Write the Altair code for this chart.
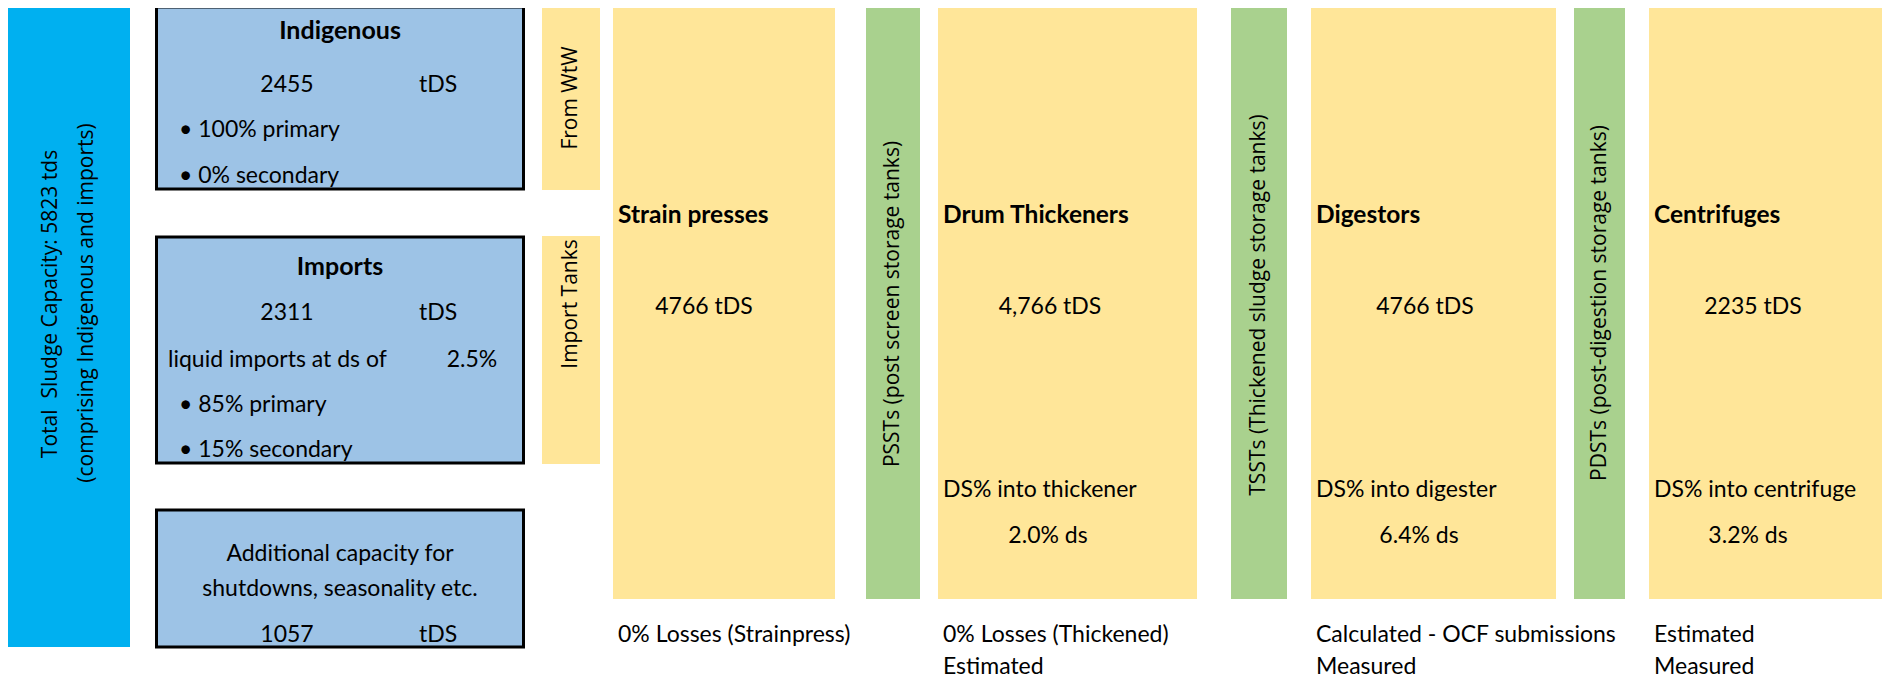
import altair as alt
import pandas as pd

# ---------------- content (values & labels) ----------------
total_capacity = 5823
indigenous_tds = 2455
imports_tds = 2311
additional_tds = 1057
import_ds = "2.5%"
indigenous_split = ["100% primary", "0% secondary"]
imports_split = ["85% primary", "15% secondary"]
feeds = ["From WtW", "Import Tanks"]
stages = ["Strain presses", "Drum Thickeners", "Digestors", "Centrifuges"]
stage_tds = ["4766", "4,766", "4766", "2235"]
stage_ds_label = ["", "DS% into thickener", "DS% into digester", "DS% into centrifuge"]
stage_ds = ["", "2.0%", "6.4%", "3.2%"]
stage_note1 = ["0% Losses (Strainpress)", "0% Losses (Thickened)", "Calculated - OCF submissions", "Estimated"]
stage_note2 = ["", "Estimated", "Measured", "Measured"]
tanks = ["PSSTs (post screen storage tanks)",
         "TSSTs (Thickened sludge storage tanks)",
         "PDSTs (post-digestion storage tanks)"]

# ---------------- layout (diagram geometry, page pixels) ----------------
W, H = 1874, 674
OX, OY = 8, 8
panel = (6, 130, 6, 647)
src_x = (156.5, 523.5)
src_y = [(7, 189), (237, 463), (510, 647)]
feed_x = (542, 600)
feed_y = [(6, 190), (236, 464)]
stage_x = [(613, 835), (938, 1197), (1311, 1556), (1649, 1890)]
stage_y = (6, 599)
tank_x = [(866, 920), (1231, 1287), (1574, 1625)]

BLUE_PANEL = "#00B0F0"
BOX_BLUE = "#9DC3E6"
YELLOW = "#FFE699"
GREEN = "#A9D18E"

rects = []
rects.append(dict(x0=panel[0], x1=panel[1], y0=panel[2], y1=panel[3], fill=BLUE_PANEL, stroke="none"))
for (a, b) in src_y:
    rects.append(dict(x0=src_x[0], x1=src_x[1], y0=a, y1=b, fill=BOX_BLUE, stroke="black"))
for (a, b) in feed_y:
    rects.append(dict(x0=feed_x[0], x1=feed_x[1], y0=a, y1=b, fill=YELLOW, stroke="none"))
for (a, b) in stage_x:
    rects.append(dict(x0=a, x1=b, y0=stage_y[0], y1=stage_y[1], fill=YELLOW, stroke="none"))
for (a, b) in tank_x:
    rects.append(dict(x0=a, x1=b, y0=stage_y[0], y1=stage_y[1], fill=GREEN, stroke="none"))
rdf = pd.DataFrame(rects)

xs = alt.Scale(domain=[OX, OX + W], nice=False, zero=False)
ys = alt.Scale(domain=[OY, OY + H], nice=False, zero=False, reverse=True)

fills = alt.Chart(rdf[rdf.stroke == "none"]).mark_rect(clip=True).encode(
    x=alt.X("x0:Q", scale=xs, axis=None), x2="x1:Q",
    y=alt.Y("y0:Q", scale=ys, axis=None), y2="y1:Q",
    color=alt.Color("fill:N", scale=None),
)
boxes = alt.Chart(rdf[rdf.stroke == "black"]).mark_rect(stroke="black", strokeWidth=3).encode(
    x=alt.X("x0:Q", scale=xs, axis=None), x2="x1:Q",
    y=alt.Y("y0:Q", scale=ys, axis=None), y2="y1:Q",
    color=alt.Color("fill:N", scale=None),
)

# ---------------- text ----------------
DY = 2  # visual-centre correction
center_txt, left_txt, bold_c, bold_l, vert = [], [], [], [], []
cx_src = 340
num_x, unit_x = 287, 438

bold_c.append(dict(x=cx_src, y=29, t="Indigenous"))
center_txt.append(dict(x=num_x, y=83, t=str(indigenous_tds)))
center_txt.append(dict(x=unit_x, y=83, t="tDS"))
left_txt.append(dict(x=179, y=128, t="\u2022 " + indigenous_split[0]))
left_txt.append(dict(x=179, y=174, t="\u2022 " + indigenous_split[1]))

bold_c.append(dict(x=cx_src, y=265, t="Imports"))
center_txt.append(dict(x=num_x, y=311, t=str(imports_tds)))
center_txt.append(dict(x=unit_x, y=311, t="tDS"))
left_txt.append(dict(x=168, y=358, t="liquid imports at ds of"))
center_txt.append(dict(x=472, y=358, t=import_ds))
left_txt.append(dict(x=179, y=403, t="\u2022 " + imports_split[0]))
left_txt.append(dict(x=179, y=448, t="\u2022 " + imports_split[1]))

center_txt.append(dict(x=cx_src, y=552, t="Additional capacity for"))
center_txt.append(dict(x=cx_src, y=587, t="shutdowns, seasonality etc."))
center_txt.append(dict(x=num_x, y=633, t=str(additional_tds)))
center_txt.append(dict(x=unit_x, y=633, t="tDS"))

tds_cx = [704, 1050, 1425, 1753]
ds_cx = [0, 1048, 1419, 1748]
for i, (a, b) in enumerate(stage_x):
    lx = a + 5
    bold_l.append(dict(x=lx, y=214, t=stages[i]))
    center_txt.append(dict(x=tds_cx[i], y=305, t=stage_tds[i] + " tDS"))
    if stage_ds_label[i]:
        left_txt.append(dict(x=lx, y=488, t=stage_ds_label[i]))
        center_txt.append(dict(x=ds_cx[i], y=534, t=stage_ds[i] + " ds"))
    left_txt.append(dict(x=lx, y=633, t=stage_note1[i]))
    if stage_note2[i]:
        left_txt.append(dict(x=lx, y=665, t=stage_note2[i]))

vert.append(dict(x=51, y=304, t="Total \u00a0Sludge Capacity: %d tds" % total_capacity))
vert.append(dict(x=87, y=303, t="(comprising Indigenous and imports)"))
vert.append(dict(x=571, y=98, t=feeds[0]))
vert.append(dict(x=571, y=304, t=feeds[1]))
tank_cy = [304, 305, 303]
for i, (a, b) in enumerate(tank_x):
    vert.append(dict(x=(a + b) / 2, y=tank_cy[i], t=tanks[i]))

for lst in (center_txt, left_txt, bold_c, bold_l):
    for r in lst:
        r["y"] += DY

BODY_FONT = "Lato"
BODY_SIZE = 23
VERT_FONT = "Open Sans"


def text_layer(rows, align, weight="normal", angle=0, font=BODY_FONT, size=BODY_SIZE):
    return alt.Chart(pd.DataFrame(rows)).mark_text(
        align=align, baseline="middle", fontWeight=weight, angle=angle,
        font=font, fontSize=size, color="black",
    ).encode(
        x=alt.X("x:Q", scale=xs, axis=None),
        y=alt.Y("y:Q", scale=ys, axis=None),
        text="t:N",
    )


layers = [
    fills, boxes,
    text_layer(center_txt, "center"),
    text_layer(left_txt, "left"),
    text_layer(bold_c, "center", weight="bold", size=25),
    text_layer(bold_l, "left", weight="bold", size=24.5),
    text_layer(vert, "center", angle=270, font=VERT_FONT, size=21),
]

chart = alt.layer(*layers).properties(
    width=W, height=H, padding=0, autosize=alt.AutoSizeParams(type="none"),
).configure_view(stroke=None)

chart.save("out.html", embed_options={"renderer": "svg", "actions": False})
